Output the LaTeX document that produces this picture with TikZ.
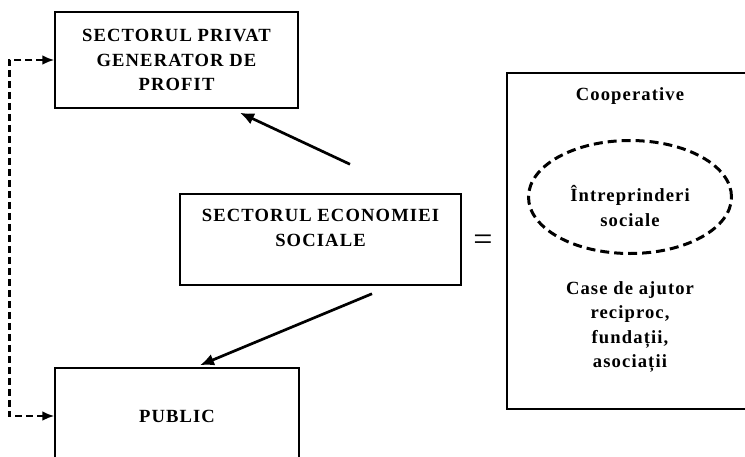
\documentclass[tikz,border=0pt]{standalone}
\usepackage{fontspec}
\setmainfont{Liberation Serif}
\newfontfamily\boxfont{Liberation Serif}[LetterSpace=6]
\usetikzlibrary{arrows.meta,shapes.geometric,positioning}

\begin{document}
\begin{tikzpicture}[x=1pt,y=-1pt,
    box/.style={draw, line width=1.5pt, inner sep=0pt},
    lbl/.style={font=\boxfont\bfseries\fontsize{18.6}{24.5}\selectfont, align=center, inner sep=0pt},
    arr/.style={-{Latex[length=14pt,width=12pt]}, line width=2.7pt},
    dasharr/.style={{Latex[length=12pt,width=10pt]}-{Latex[length=12pt,width=10pt]}, line width=2.7pt, dash pattern=on 7pt off 4pt}]

    % Page size
    \useasboundingbox (0,0) rectangle (745,456);

    % Sector boxes
    \node[box, lbl, minimum width=243pt, minimum height=96pt] (priv) at (176.5,60) {SECTORUL PRIVAT\\GENERATOR DE\\PROFIT};
    \node[box, minimum width=281pt, minimum height=91pt] (ecsoc) at (320.5,239.5) {};
    \node[lbl, below=16pt of ecsoc.north] (ecsoctxt) {SECTORUL ECONOMIEI\\SOCIALE};
    \node[box, lbl, minimum width=244pt, minimum height=96pt] (pub) at (177,416) {PUBLIC};

    % Equals sign
    \node[font=\fontsize{34}{34}\selectfont, inner sep=0pt] (eq) at (483,243) {=};

    % Right box
    \node[box, minimum width=246pt, minimum height=336pt] (forms) at (630,241) {};
    \node[lbl] (coop) at (630,96) {Cooperative};
    \node[draw, ellipse, line width=3pt, dash pattern=on 9pt off 5pt,
          minimum width=203pt, minimum height=113pt] (ent) at (630,197) {};
    \node[lbl] (enttxt) at (630,206) {Întreprinderi\\sociale};
    \node[lbl] (case) at (630,327) {Case de ajutor\\reciproc,\\fundații,\\asociații};

    % Arrows
    \draw[arr] ([xshift=29.5pt,yshift=29pt]ecsoc.north) -- ([xshift=63.5pt,yshift=-4pt]priv.south);
    \draw[arr] ([xshift=51.5pt,yshift=-8pt]ecsoc.south) -- ([xshift=23pt,yshift=2pt]pub.north);

    % Dashed link
    \draw[dasharr] (priv.west) -- ++(-45,0) |- (pub.west);

\end{tikzpicture}
\end{document}
